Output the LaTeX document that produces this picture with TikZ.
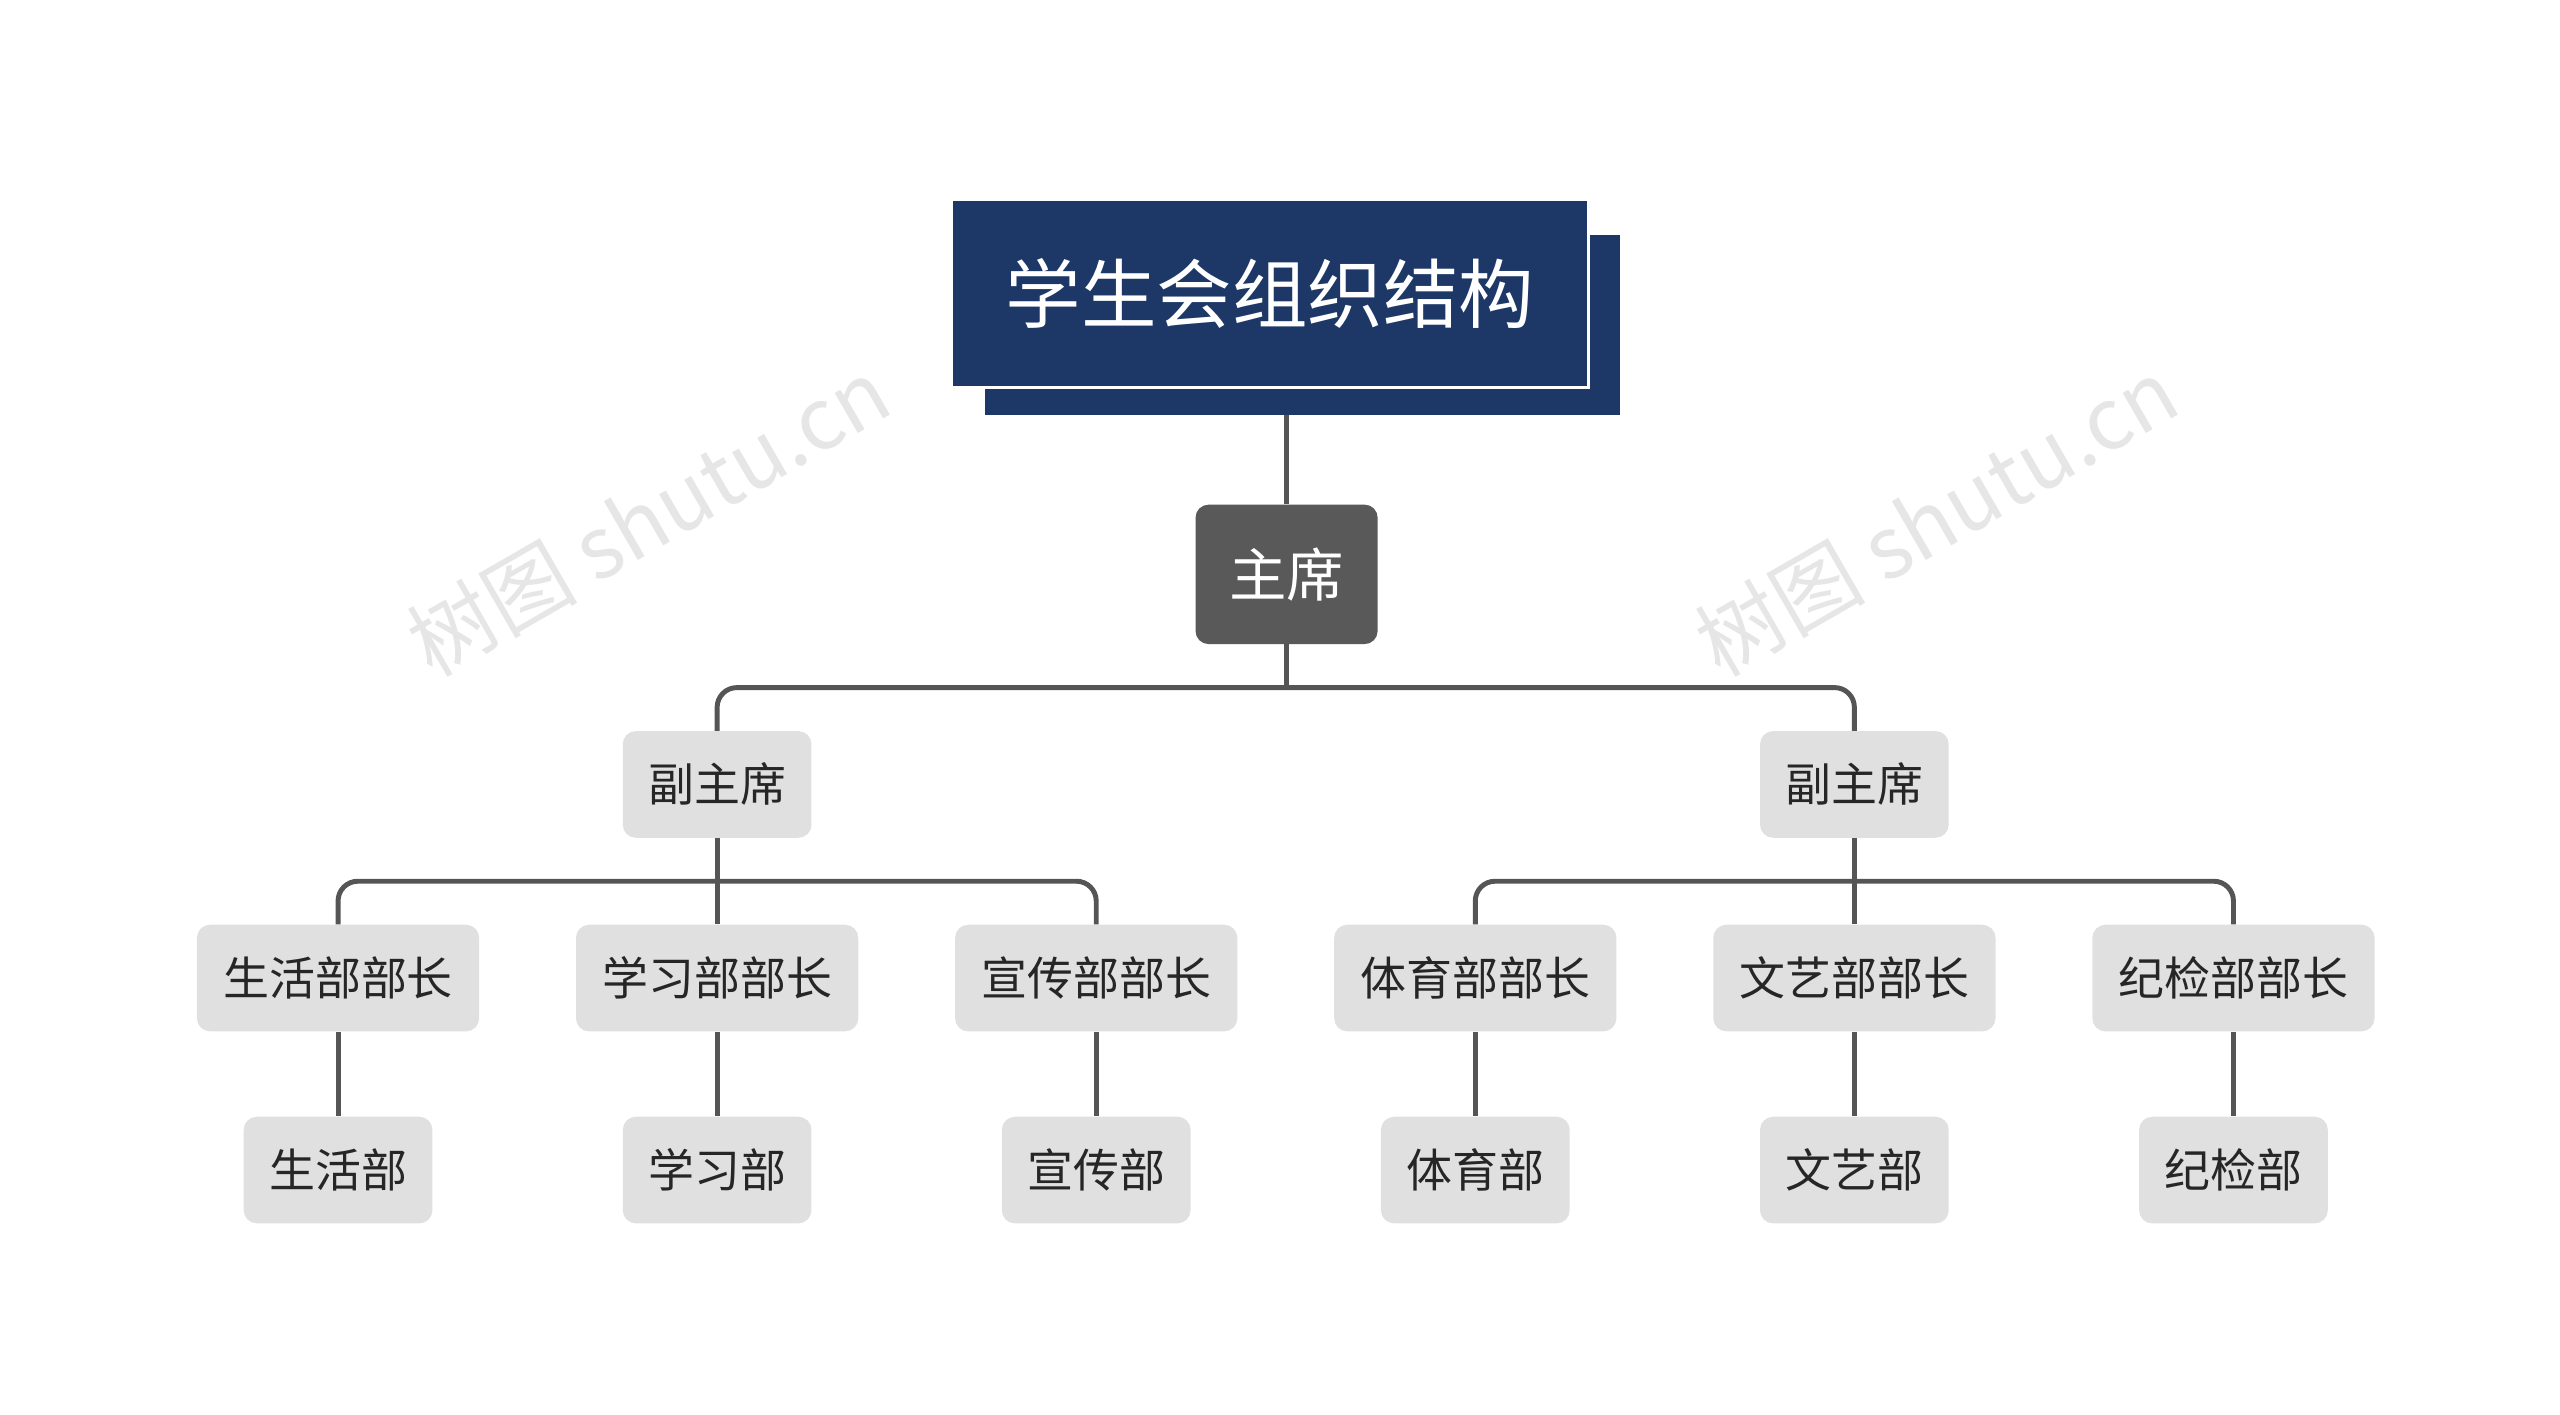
\documentclass[tikz,border=0pt]{standalone}
\usepackage{fontspec}
\newfontfamily\cjk{Noto Sans CJK SC}
\definecolor{navy}{HTML}{1D3867}
\definecolor{dgrey}{HTML}{595959}
\definecolor{lgrey}{HTML}{E0E0E0}
\definecolor{ln}{HTML}{555555}
\definecolor{wmc}{HTML}{E6E6E6}
\begin{document}
\begin{tikzpicture}[x=1pt,y=-1pt,
  lv/.style={fill=lgrey,rounded corners=8pt,minimum height=65pt,text=black!85,font=\cjk\fontsize{28}{30}\selectfont,inner sep=0pt},
  conn/.style={draw=ln,line width=3pt,rounded corners=12pt}]
\useasboundingbox (0,0) rectangle (1560,862);
\foreach \x/\y in {395/315,1180/315}
  \node[rotate=30,text=wmc,font=\cjk\fontsize{52}{54}\selectfont] at (\x,\y) {树图 shutu.cn};
% title
\fill[navy] (600,143) rectangle (987,253);
\node[fill=navy,draw=white,line width=1.5pt,minimum width=388pt,minimum height=114pt,text=white,font=\cjk\fontsize{46}{48}\selectfont] (t) at (774,179) {学生会组织结构};
\node[fill=dgrey,rounded corners=8pt,minimum width=111pt,minimum height=85pt,text=white,font=\cjk\fontsize{35}{38}\selectfont] (c) at (784,350) {主席};
\draw[conn] (784,253) -- (c.north);
\node[lv,minimum width=115pt] (v1) at (437,478) {副主席};
\node[lv,minimum width=115pt] (v2) at (1130,478) {副主席};
\draw[conn,rounded corners=0pt] (c.south) -- (784,419);
\draw[conn] (v1.north) |- (784,419) -| (v2.north);
\foreach \n/\x/\a/\b in {a/206/生活部部长/生活部,b/437/学习部部长/学习部,c/668/宣传部部长/宣传部,d/899/体育部部长/体育部,e/1130/文艺部部长/文艺部,f/1361/纪检部部长/纪检部}{
  \node[lv,minimum width=172pt] (m\n) at (\x,596) {\a};
  \node[lv,minimum width=115pt] (s\n) at (\x,713) {\b};
  \draw[conn] (m\n.south) -- (s\n.north);
}
\draw[conn] (v1.south) -- (mb.north);
\draw[conn] (ma.north) |- (437,537) -| (mc.north);
\draw[conn] (v2.south) -- (me.north);
\draw[conn] (md.north) |- (1130,537) -| (mf.north);
\end{tikzpicture}
\end{document}
